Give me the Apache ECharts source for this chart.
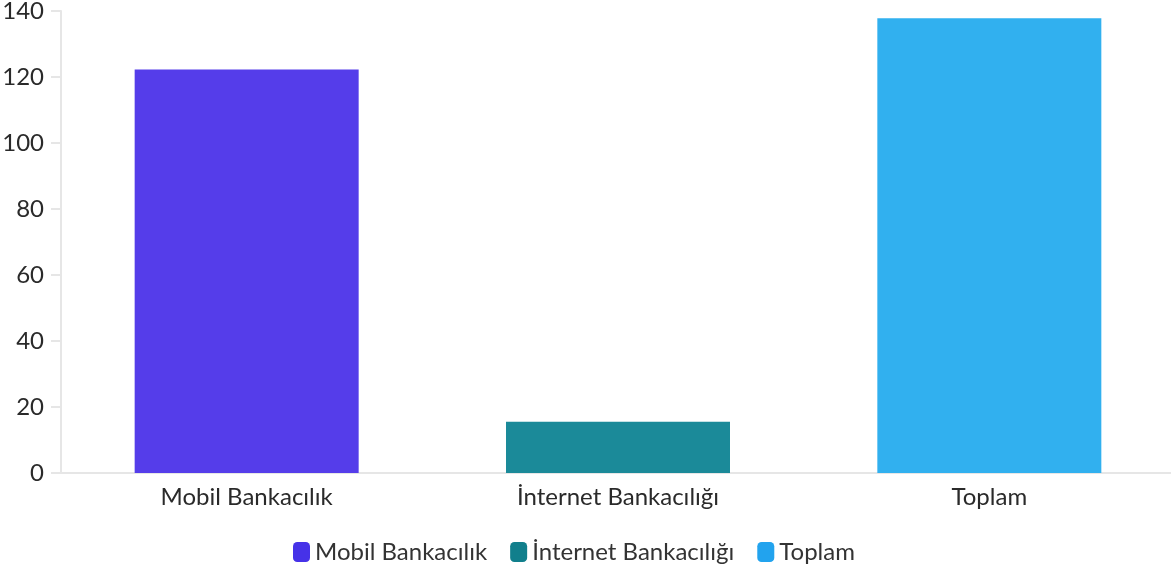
<!DOCTYPE html>
<html>
<head>
<meta charset="utf-8">
<script src="https://cdn.jsdelivr.net/npm/echarts@6/dist/echarts.min.js"></script>
<style>
  html, body { margin: 0; padding: 0; background: #ffffff; }
  #chart { width: 1171px; height: 577px; }
</style>
</head>
<body>
<div id="chart"></div>
<script>
// Categories and values
const categories = ['Mobil Bankacılık', 'İnternet Bankacılığı', 'Toplam'];
const mobilValues = [122.3, '-', '-'];
const internetValues = ['-', 15.5, '-'];
const toplamValues = ['-', '-', 137.8];
const yTicks = { min: 0, max: 140, interval: 20 };

const barColors = ['#553dea', '#1b8a99', '#31b0ef'];
const legendColors = ['#4632e8', '#117f8c', '#22a3ee'];
const seriesData = [mobilValues, internetValues, toplamValues];

const FONT = 'Lato';
const TEXT_COLOR = '#2a2a2a';
const AXIS_COLOR = '#e6e6e6';

const chart = echarts.init(document.getElementById('chart'), null, { renderer: 'canvas' });

chart.setOption({
  animation: false,
  textStyle: { fontFamily: FONT },
  grid: {
    left: 61, top: 11, width: 1114, bottom: 104,
    containLabel: false,
    outerBoundsMode: 'none'
  },
  legend: {
    left: 293,
    top: 540,
    padding: 0,
    icon: 'roundRect',
    itemWidth: 17,
    itemHeight: 20,
    itemGap: 23,
    textStyle: { fontFamily: FONT, fontSize: 24, color: '#333333' },
    data: categories.map((name, i) => ({ name, itemStyle: { color: legendColors[i] } }))
  },
  xAxis: {
    type: 'category',
    data: categories,
    axisLine: { lineStyle: { color: AXIS_COLOR, width: 2 } },
    axisTick: { alignWithLabel: true, length: 9, lineStyle: { color: AXIS_COLOR, width: 2 } },
    axisLabel: { fontFamily: FONT, fontSize: 24, color: TEXT_COLOR, margin: 12 }
  },
  yAxis: {
    type: 'value',
    min: yTicks.min,
    max: yTicks.max,
    interval: yTicks.interval,
    axisLine: { show: true, lineStyle: { color: AXIS_COLOR, width: 2 } },
    axisTick: { show: true, length: 10, lineStyle: { color: AXIS_COLOR, width: 2 } },
    splitLine: { show: false },
    axisLabel: { fontFamily: FONT, fontSize: 24, color: TEXT_COLOR, margin: 17 }
  },
  series: categories.map((name, i) => ({
    name,
    type: 'bar',
    stack: 'total',
    barWidth: 224,
    data: seriesData[i],
    itemStyle: { color: barColors[i] }
  }))
});
</script>
</body>
</html>
